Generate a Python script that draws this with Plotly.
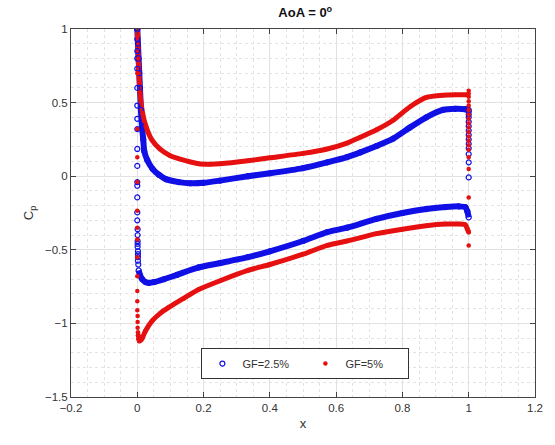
import plotly.graph_objects as go

# ---------------- data ----------------
# GF = 2.5 %  (blue open circles)
gf25_upper_x = [0.000, 0.002, 0.004, 0.006, 0.008, 0.011, 0.014, 0.018, 0.021, 0.030, 0.046,
                0.065, 0.086, 0.125, 0.160, 0.200, 0.250, 0.334, 0.400, 0.500, 0.573,
                0.633, 0.673, 0.722, 0.772, 0.822, 0.872, 0.922, 0.960, 0.990, 1.000]
gf25_upper_cp = [1.000, 0.900, 0.800, 0.700, 0.600, 0.450, 0.340, 0.250, 0.170, 0.110, 0.050,
                 0.010, -0.020, -0.040, -0.048, -0.045, -0.030, 0.000, 0.020, 0.055, 0.094,
                 0.130, 0.162, 0.205, 0.255, 0.330, 0.400, 0.450, 0.458, 0.455, 0.450]

gf25_lower_x = [0.004, 0.008, 0.015, 0.025, 0.035, 0.050, 0.080, 0.120, 0.185, 0.250, 0.334,
                0.400, 0.500, 0.573, 0.633, 0.722, 0.800, 0.872, 0.930, 0.970, 0.990,
                0.996, 1.000]
gf25_lower_cp = [-0.640, -0.670, -0.700, -0.720, -0.725, -0.720, -0.700, -0.670, -0.620, -0.590, -0.550,
                 -0.510, -0.440, -0.380, -0.350, -0.290, -0.250, -0.223, -0.210, -0.205, -0.210,
                 -0.240, -0.280]

gf25_le_x = [0.000, 0.000, 0.000, 0.000, 0.000, 0.000, 0.000, 0.000, 0.000, 0.000, 0.000, 0.000,
             0.000, 0.000, 0.000, 0.000, 0.001, 0.001, 0.001, 0.001, 0.001, 0.002, 0.002, 0.002,
             0.002, 0.003]
gf25_le_cp = [1.000, 0.930, 0.850, 0.800, 0.730, 0.600, 0.480, 0.390, 0.320, 0.185, 0.070, -0.040,
              -0.065, -0.144, -0.246, -0.300, -0.360, -0.400, -0.440, -0.460, -0.480, -0.510, -0.530,
              -0.550, -0.574, -0.600]

gf25_te_x = [1.000] * 13
gf25_te_cp = [0.440, 0.420, 0.400, 0.370, 0.340, 0.310, 0.280, 0.250, 0.220, 0.190, 0.150, 0.094, -0.008]

# GF = 5 %  (red dots)
gf5_upper_x = [0.000, 0.003, 0.008, 0.016, 0.026, 0.043, 0.068, 0.098, 0.127, 0.185, 0.220,
               0.250, 0.334, 0.400, 0.500, 0.573, 0.633, 0.673, 0.722, 0.772, 0.822,
               0.872, 0.922, 0.960, 0.995]
gf5_upper_cp = [1.020, 0.800, 0.570, 0.430, 0.340, 0.250, 0.185, 0.140, 0.117, 0.085, 0.082,
                0.085, 0.105, 0.125, 0.155, 0.185, 0.225, 0.264, 0.315, 0.380, 0.470,
                0.535, 0.550, 0.553, 0.553]

gf5_lower_x = [0.004, 0.006, 0.010, 0.015, 0.025, 0.046, 0.070, 0.096, 0.140, 0.185, 0.250,
               0.334, 0.400, 0.500, 0.573, 0.633, 0.722, 0.800, 0.872, 0.930, 0.970,
               0.990, 0.996, 1.000]
gf5_lower_cp = [-1.080, -1.120, -1.115, -1.100, -1.050, -0.980, -0.930, -0.890, -0.830, -0.770, -0.710,
                -0.640, -0.600, -0.530, -0.470, -0.440, -0.390, -0.360, -0.336, -0.325, -0.325,
                -0.330, -0.360, -0.380]

gf5_le_x = [0.000, 0.000, 0.000, 0.000, 0.000, 0.000, 0.000, 0.000, 0.000, 0.000, 0.000,
            0.000, 0.000, 0.001, 0.001, 0.001, 0.002, 0.002, 0.003]
gf5_le_cp = [0.950, 0.700, 0.320, 0.128, -0.040, -0.234, -0.350, -0.430, -0.550, -0.680, -0.780,
             -0.850, -0.910, -0.950, -0.990, -1.030, -1.060, -1.080, -1.106]

gf5_te_x = [1.000] * 20
gf5_te_cp = [0.580, 0.560, 0.540, 0.510, 0.480, 0.450, 0.420, 0.390, 0.360, 0.330, 0.300,
             0.270, 0.240, 0.210, 0.180, 0.128, 0.049, -0.144, -0.380, -0.470]

series_names = ["GF=2.5%", "GF=5%"]

# ---------------- styles ----------------
BLUE = "#1010e6"
RED = "#e61010"
FONT = "Liberation Sans, Arial, Helvetica, sans-serif"
TXT = "#333333"

fig = go.Figure()

# dense bands (continuous marker strips)
for xs, ys, col, w in [
    (gf25_upper_x, gf25_upper_cp, BLUE, 6),
    (gf25_lower_x, gf25_lower_cp, BLUE, 6),
    (gf5_upper_x, gf5_upper_cp, RED, 5),
    (gf5_lower_x, gf5_lower_cp, RED, 5),
]:
    fig.add_trace(go.Scatter(x=xs, y=ys, mode="lines",
                             line=dict(color=col, width=w, shape="spline", smoothing=0.6),
                             showlegend=False, hoverinfo="skip"))

# markers
b_x = gf25_le_x + gf25_upper_x + gf25_te_x + gf25_lower_x
b_y = gf25_le_cp + gf25_upper_cp + gf25_te_cp + gf25_lower_cp
r_x = gf5_le_x + gf5_upper_x + gf5_te_x + gf5_lower_x
r_y = gf5_le_cp + gf5_upper_cp + gf5_te_cp + gf5_lower_cp

fig.add_trace(go.Scatter(x=b_x, y=b_y, mode="markers", name=series_names[0],
                         marker=dict(symbol="circle-open", size=5, color=BLUE, line=dict(width=1.2, color=BLUE))))
fig.add_trace(go.Scatter(x=r_x, y=r_y, mode="markers", name=series_names[1],
                         marker=dict(symbol="circle", size=4.5, color=RED, line=dict(width=0))))

axis_common = dict(
    showline=True, linecolor="#444444", linewidth=1, mirror="allticks",
    ticks="inside", ticklen=5, tickcolor="#444444", tickwidth=1,
    showgrid=True, gridcolor="#e2e2e2", gridwidth=1,
    zeroline=False,
    tickfont=dict(family=FONT, size=11.5, color=TXT),
)

fig.update_xaxes(range=[-0.2, 1.2], dtick=0.2, tick0=-0.2,
                 minor=dict(dtick=0.05, showgrid=True, gridcolor="#e3e3e3", griddash="dot", gridwidth=1, ticks=""),
                 title=dict(text="x", font=dict(family=FONT, size=13, color=TXT), standoff=6),
                 **axis_common)
fig.update_yaxes(range=[-1.5, 1.0], dtick=0.5, tick0=-1.5,
                 minor=dict(dtick=0.1, showgrid=True, gridcolor="#e3e3e3", griddash="dot", gridwidth=1, ticks=""),
                 title=dict(text="C<sub>p</sub>", font=dict(family=FONT, size=13, color=TXT), standoff=8),
                 **axis_common)

fig.update_layout(
    width=555, height=445,
    margin=dict(l=71, r=15, t=29, b=48),
    paper_bgcolor="white", plot_bgcolor="white",
    title=dict(text="<b>AoA = 0<sup>o</sup></b>", x=0.55, xanchor="center", y=0.972, yanchor="middle",
               font=dict(family=FONT, size=13, color="#111111")),
    legend=dict(orientation="h", x=0.281, y=0.133, xanchor="left", yanchor="top",
                bgcolor="white", bordercolor="#333333", borderwidth=1,
                font=dict(family=FONT, size=11, color=TXT),
                entrywidth=58, itemsizing="trace", tracegroupgap=0),
    showlegend=True,
)

fig.write_html("out.html")
